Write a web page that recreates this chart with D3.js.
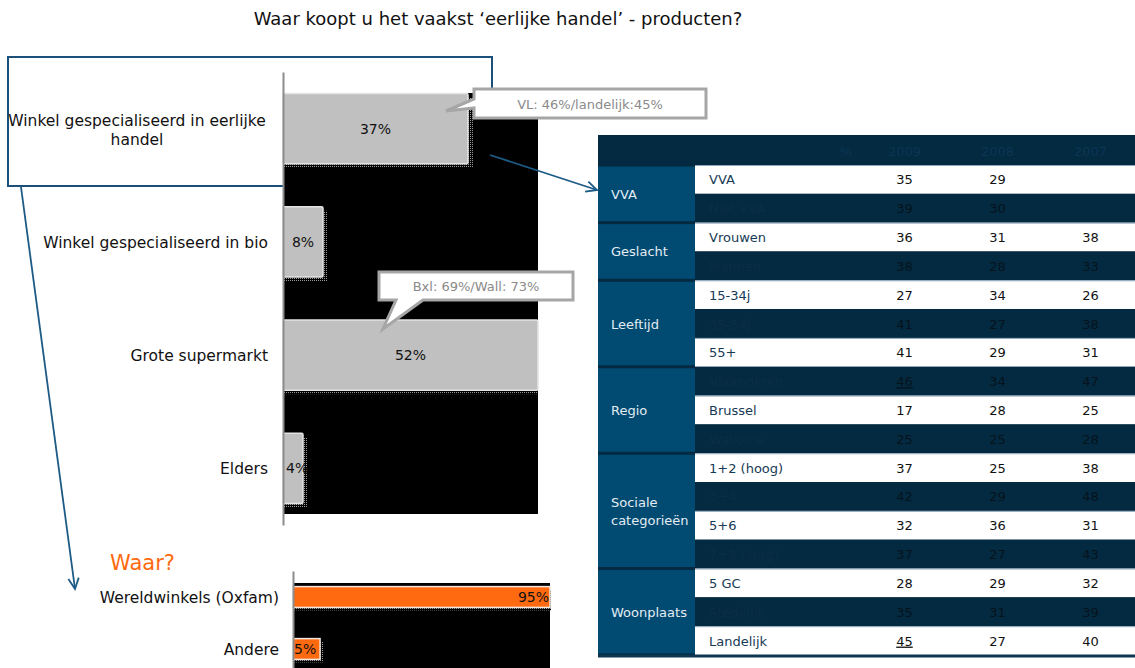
<!DOCTYPE html>
<html>
<head>
<meta charset="utf-8">
<script src="https://cdn.jsdelivr.net/npm/d3@7"></script>
<style>
  body { margin: 0; background: #fff; }
  svg { display: block; }
</style>
</head>
<body>
<svg id="chart" width="1135" height="668"></svg>
<script>
// ---- data ----
const titleText = "Waar koopt u het vaakst \u2018eerlijke handel\u2019 - producten?";

const shopCategories = ["Winkel gespecialiseerd in eerlijke handel", "Winkel gespecialiseerd in bio", "Grote supermarkt", "Elders"];
const shopValues = [37, 8, 52, 4];

const whereTitle = "Waar?";
const whereCategories = ["Wereldwinkels (Oxfam)", "Andere"];
const whereValues = [95, 5];

const callouts = ["VL: 46%/landelijk:45%", "Bxl: 69%/Wall: 73%"];

const tableYears = ["2009", "2008", "2007"];
const groupNames = [["VVA"], ["Geslacht"], ["Leeftijd"], ["Regio"], ["Sociale", "categorie\u00ebn"], ["Woonplaats"]];
const groupSizes = [2, 2, 3, 3, 4, 3];
const rowLabels = ["VVA", "Niet VVA", "Vrouwen", "Mannen", "15-34j", "35-54j", "55+", "Vlaanderen", "Brussel", "Wallonie",
                   "1+2 (hoog)", "3+4", "5+6", "7+8 (laag)", "5 GC", "Stedelijk", "Landelijk"];
const values2009 = [35, 39, 36, 38, 27, 41, 41, 46, 17, 25, 37, 42, 32, 37, 28, 35, 45];
const values2008 = [29, 30, 31, 28, 34, 27, 29, 34, 28, 25, 25, 29, 36, 27, 29, 31, 27];
const values2007 = [null, null, 38, 33, 26, 38, 31, 47, 25, 28, 38, 48, 31, 43, 32, 39, 40];
const underlined2009 = ["Vlaanderen", "Landelijk"];

// ---- setup ----
const svg = d3.select("#chart");
const FONT = "'DejaVu Sans', Verdana, sans-serif";
const defs = svg.append("defs");

const dots = defs.append("pattern").attr("id", "dots")
  .attr("width", 2).attr("height", 2).attr("patternUnits", "userSpaceOnUse");
dots.append("rect").attr("width", 2).attr("height", 2).attr("fill", "#000");
dots.append("rect").attr("width", 1).attr("height", 1).attr("fill", "#9a9a9a");

const arrowBlue = "#1d5b86";

// title
svg.append("text")
  .attr("x", 498).attr("y", 25)
  .attr("text-anchor", "middle")
  .attr("font-family", FONT).attr("font-size", 18).attr("fill", "#111")
  .text(titleText);

// frame around the first category
svg.append("rect")
  .attr("x", 8).attr("y", 57).attr("width", 484).attr("height", 129)
  .attr("fill", "#fff").attr("stroke", "#1a5079").attr("stroke-width", 2);

// ---- main bar chart ----
const x1 = d3.scaleLinear().domain([0, 51]).range([283, 538]).clamp(true);
const y1 = d3.scaleBand().domain(shopCategories).range([72, 525])
  .paddingInner(0.38).paddingOuter(0.19);
const plotRight1 = x1.range()[1];

svg.append("rect")
  .attr("x", x1(0)).attr("y", 93)
  .attr("width", plotRight1 - x1(0)).attr("height", 421)
  .attr("fill", "#000");

const shopData = shopCategories.map((c, i) => ({ c, v: shopValues[i] }));

const g1 = svg.append("g");
g1.selectAll("rect.shadow").data(shopData).join("rect")
  .attr("class", "shadow")
  .attr("x", d => x1(0) + 1).attr("y", d => y1(d.c) + 4)
  .attr("width", d => Math.min(x1(d.v) - x1(0) + 4, plotRight1 - x1(0) - 1))
  .attr("height", y1.bandwidth())
  .attr("fill", "url(#dots)");
g1.selectAll("rect.bar").data(shopData).join("rect")
  .attr("class", "bar")
  .attr("x", x1(0)).attr("y", d => y1(d.c))
  .attr("width", d => x1(d.v) - x1(0)).attr("height", y1.bandwidth())
  .attr("rx", 1.5)
  .attr("fill", "#c0c0c0").attr("stroke", "#e4e4e4").attr("stroke-width", 1.5);

g1.selectAll("text.val").data(shopData).join("text")
  .attr("class", "val")
  .attr("x", d => {
    const w = x1(d.v) - x1(0);
    return w > 30 ? x1(0) + w / 2 : x1(0) + 3;
  })
  .attr("text-anchor", d => (x1(d.v) - x1(0) > 30 ? "middle" : "start"))
  .attr("y", d => y1(d.c) + y1.bandwidth() / 2 + 5)
  .attr("font-family", FONT).attr("font-size", 14).attr("fill", "#111")
  .text(d => d.v + "%");

// axis line
svg.append("g")
  .attr("transform", `translate(${x1(0)},0)`)
  .call(d3.axisLeft(y1).tickSize(0).tickFormat(""))
  .call(g => g.select(".domain").attr("stroke", "#8c8c8c").attr("stroke-width", 2));

// category labels
shopData.forEach((d, i) => {
  const cy = y1(d.c) + y1.bandwidth() / 2;
  if (i === 0) {
    const t = svg.append("text").attr("text-anchor", "middle")
      .attr("font-family", FONT).attr("font-size", 15.5).attr("fill", "#111");
    t.append("tspan").attr("x", 137).attr("y", cy - 3).text("Winkel gespecialiseerd in eerlijke");
    t.append("tspan").attr("x", 137).attr("y", cy + 16).text("handel");
  } else {
    svg.append("text").attr("text-anchor", "end")
      .attr("x", 268).attr("y", cy + 6)
      .attr("font-family", FONT).attr("font-size", 15.5).attr("fill", "#111")
      .text(d.c);
  }
});

// callout bubbles
function callout(box, tip, base, text) {
  const [x0, y0, x1b, y1b] = box;
  const p = d3.path();
  p.moveTo(x0, y0); p.lineTo(x1b, y0); p.lineTo(x1b, y1b);
  if (base.side === "bottom") {
    p.lineTo(base.b, y1b); p.lineTo(tip[0], tip[1]); p.lineTo(base.a, y1b);
    p.lineTo(x0, y1b);
  } else {
    p.lineTo(x0, y1b); p.lineTo(x0, base.b); p.lineTo(tip[0], tip[1]); p.lineTo(x0, base.a);
  }
  p.closePath();
  svg.append("path").attr("d", p.toString())
    .attr("fill", "#fff").attr("stroke", "#a6a6a6").attr("stroke-width", 3)
    .attr("stroke-linejoin", "miter");
  svg.append("text")
    .attr("x", (x0 + x1b) / 2).attr("y", (y0 + y1b) / 2 + 5)
    .attr("text-anchor", "middle")
    .attr("font-family", FONT).attr("font-size", 13).attr("fill", "#8a8a8a")
    .text(text);
}
callout([474, 89, 706, 118], [446, 111], { side: "left", a: 99, b: 108 }, callouts[0]);
callout([379, 272, 573, 300], [383, 329], { side: "bottom", a: 396, b: 423 }, callouts[1]);

// ---- second chart: Waar? ----
svg.append("text")
  .attr("x", 110).attr("y", 570)
  .attr("font-family", FONT).attr("font-size", 21).attr("fill", "#ff6a10")
  .text(whereTitle);

const x2 = d3.scaleLinear().domain([0, 47.5]).range([293, 550]).clamp(true);
const y2 = d3.scaleBand().domain(whereCategories).range([571, 675])
  .paddingInner(0.6).paddingOuter(0.3);

svg.append("rect")
  .attr("x", x2(0)).attr("y", 583)
  .attr("width", x2.range()[1] - x2(0)).attr("height", 90)
  .attr("fill", "#000");

const whereData = whereCategories.map((c, i) => ({ c, v: whereValues[i] }));
const g2 = svg.append("g");
g2.selectAll("rect.shadow").data(whereData).join("rect")
  .attr("class", "shadow")
  .attr("x", x2(0) + 1).attr("y", d => y2(d.c) + 3)
  .attr("width", d => Math.min(x2(d.v) - x2(0) + 3, x2.range()[1] - x2(0)))
  .attr("height", y2.bandwidth())
  .attr("fill", "url(#dots)");
g2.selectAll("rect.bar").data(whereData).join("rect")
  .attr("class", "bar")
  .attr("x", x2(0)).attr("y", d => y2(d.c))
  .attr("width", d => x2(d.v) - x2(0)).attr("height", y2.bandwidth())
  .attr("fill", "#ff6a10").attr("stroke", "#f3e6dc").attr("stroke-width", 1.5);
g2.selectAll("text.val").data(whereData).join("text")
  .attr("class", "val")
  .attr("x", d => (x2(d.v) - x2(0) > 60 ? x2(d.v) - 1 : x2(0) + 1))
  .attr("text-anchor", d => (x2(d.v) - x2(0) > 60 ? "end" : "start"))
  .attr("y", d => y2(d.c) + y2.bandwidth() / 2 + 5)
  .attr("font-family", FONT).attr("font-size", 14).attr("fill", "#111")
  .text(d => d.v + "%");

svg.append("g")
  .attr("transform", `translate(${x2(0)},0)`)
  .call(d3.axisLeft(y2).tickSize(0).tickFormat(""))
  .call(g => g.select(".domain").attr("stroke", "#8c8c8c").attr("stroke-width", 2));

svg.append("g").selectAll("text").data(whereData).join("text")
  .attr("x", 279).attr("y", d => y2(d.c) + y2.bandwidth() / 2 + 6)
  .attr("text-anchor", "end")
  .attr("font-family", FONT).attr("font-size", 15.5).attr("fill", "#111")
  .text(d => d.c);

// ---- arrows ----
function arrow(from, to) {
  const ang = Math.atan2(to[1] - from[1], to[0] - from[0]);
  const L = 12, spread = 0.45;
  svg.append("line")
    .attr("x1", from[0]).attr("y1", from[1]).attr("x2", to[0]).attr("y2", to[1])
    .attr("stroke", arrowBlue).attr("stroke-width", 1.8);
  const a1 = [to[0] - L * Math.cos(ang - spread), to[1] - L * Math.sin(ang - spread)];
  const a2 = [to[0] - L * Math.cos(ang + spread), to[1] - L * Math.sin(ang + spread)];
  svg.append("path")
    .attr("d", `M${a1}L${to}L${a2}`)
    .attr("fill", "none").attr("stroke", arrowBlue).attr("stroke-width", 1.8);
}
arrow([21, 187], [75, 589]);
arrow([490, 155], [597, 190]);

// ---- table ----
const T = { x0: 598, x1: 1135, head0: 135, body0: 165, body1: 655, groupW: 97 };
const rowScale = d3.scaleBand().domain(d3.range(rowLabels.length)).range([T.body0, T.body1]);
const colScale = d3.scaleBand().domain(tableYears).range([858, 1137]);
const navy = "#032a40";
const groupBlue = "#014a72";

const tg = svg.append("g");
tg.append("rect").attr("x", T.x0).attr("y", T.head0)
  .attr("width", T.x1 - T.x0).attr("height", T.body1 - T.head0 + 2).attr("fill", navy);

// header
tg.append("text").attr("x", 846).attr("y", 156).attr("text-anchor", "middle")
  .attr("font-family", FONT).attr("font-size", 13).attr("fill", "#0b3554").text("%");
tg.selectAll("text.year").data(tableYears).join("text")
  .attr("class", "year")
  .attr("x", d => colScale(d) + colScale.bandwidth() / 2).attr("y", 156)
  .attr("text-anchor", "middle")
  .attr("font-family", FONT).attr("font-size", 13).attr("fill", "#0b3554")
  .text(d => d);

// rows
const rows = rowLabels.map((label, i) => ({
  i, label, white: i % 2 === 0,
  vals: [values2009[i], values2008[i], values2007[i]]
}));
const rowG = tg.selectAll("g.row").data(rows).join("g").attr("class", "row");
rowG.append("rect")
  .attr("x", T.x0 + T.groupW).attr("y", d => rowScale(d.i))
  .attr("width", T.x1 - T.x0 - T.groupW).attr("height", rowScale.bandwidth())
  .attr("fill", d => (d.white ? "#fff" : navy));
rowG.filter(d => d.white).append("line")
  .attr("x1", T.x0 + T.groupW).attr("x2", T.x1)
  .attr("y1", d => rowScale(d.i) + 0.5).attr("y2", d => rowScale(d.i) + 0.5)
  .attr("stroke", "#8ea7ba").attr("stroke-width", 1);
rowG.append("text")
  .attr("x", 709).attr("y", d => rowScale(d.i) + rowScale.bandwidth() / 2 + 5)
  .attr("font-family", FONT).attr("font-size", 13)
  .attr("fill", d => (d.white ? "#173a55" : "#0c2d47"))
  .text(d => d.label);
rowG.each(function (d) {
  const g = d3.select(this);
  d.vals.forEach((v, k) => {
    if (v == null) return;
    const year = tableYears[k];
    g.append("text")
      .attr("x", colScale(year) + colScale.bandwidth() / 2)
      .attr("y", rowScale(d.i) + rowScale.bandwidth() / 2 + 5)
      .attr("text-anchor", "middle")
      .attr("font-family", FONT).attr("font-size", 13)
      .attr("fill", d.white ? "#111" : "#06131d")
      .attr("text-decoration", k === 0 && underlined2009.includes(d.label) ? "underline" : null)
      .text(v);
  });
});

// group column
let start = 0;
groupNames.forEach((lines, gi) => {
  const n = groupSizes[gi];
  const y0 = rowScale(start);
  const y1g = rowScale(start + n - 1) + rowScale.bandwidth();
  tg.append("rect").attr("x", T.x0).attr("y", y0 + 1.5)
    .attr("width", T.groupW).attr("height", y1g - y0 - 3).attr("fill", groupBlue);
  const cy = (y0 + y1g) / 2;
  const t = tg.append("text").attr("font-family", FONT).attr("font-size", 13).attr("fill", "#e3edf3");
  lines.forEach((ln, li) => {
    t.append("tspan").attr("x", 611)
      .attr("y", cy + 5 + (li - (lines.length - 1) / 2) * 18)
      .text(ln);
  });
  start += n;
});
tg.append("line").attr("x1", T.x0).attr("x2", T.x1)
  .attr("y1", T.body1 + 1).attr("y2", T.body1 + 1)
  .attr("stroke", "#0d3650").attr("stroke-width", 3);
</script>
</body>
</html>
